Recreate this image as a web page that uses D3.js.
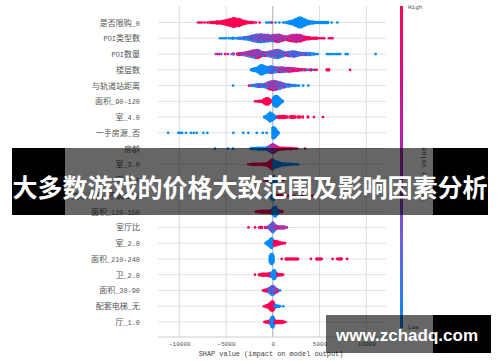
<!DOCTYPE html>
<html>
<head>
<meta charset="utf-8">
<script src="https://cdn.jsdelivr.net/npm/d3@7"></script>
<style>
html, body { margin: 0; padding: 0; background: #fff; }
svg { display: block; }
</style>
</head>
<body>
<div id="chart"></div>
<script>
// feature names, top to bottom
const categories = ["是否限购_0", "POI类型数", "POI数量", "楼层数", "与轨道站距离", "面积_90-120", "室_4.0", "一手房源_否", "房龄", "室_3.0", "室_1.0", "房本年限_不满二年", "面积_120-150", "室厅比", "室_2.0", "面积_210-240", "卫_2.0", "面积_30-90", "配套电梯_无", "厅_1.0"];
const xTicks = [-10000, -5000, 0, 5000, 10000];
const titleText = "大多数游戏的价格大致范围及影响因素分析";
const watermarkText = "www.zchadq.com";

// each entry: [shap value, dots stacked at that value, feature value 0..1]
const xiangou = [[-8000,1,1],[-7800,1,1],[-7600,1,1],[-7300,1,1],[-7000,1,1],[-6800,1,1],[-6600,2,1],[-6400,2,1],[-6200,2,1],[-6000,3,1],[-5800,3,1],[-5600,3,1],[-5400,4,1],[-5200,5,1],[-5000,6,1],[-4800,7,1],[-4600,8,1],[-4400,9,1],[-4200,11,1],[-4000,10,1],[-3800,8,1],[-3600,9,1],[-3400,7,1],[-3200,5,1],[-3000,4,1],[-2800,3,1],[-2600,2,1],[-2400,2,1],[-2200,2,1],[-2000,1,1],[-1800,1,1],[-1400,1,1],[-700,1,0],[-500,1,0],[-300,1,0],[-100,1,1],[300,1,0],[700,1,0],[1100,1,0],[1300,1,0],[1500,2,0],[1700,3,0],[1900,4,0],[2100,5,0],[2300,7,0],[2500,9,0],[2700,11,0],[2900,12,0],[3100,11,0],[3300,9,0],[3500,7,0],[3700,5,0],[3900,4,0],[4100,3,0],[4300,3,0],[4500,2,0],[4700,2,0],[4900,2,0],[5100,2,0],[5300,2,0],[5500,2,0],[5700,2,0],[5900,2,0],[6300,1,0],[6900,1,0]];
const poiType = [[-5650,1,0],[-5400,1,0],[-5200,1,0],[-5000,1,0],[-4700,1,0],[-4500,1,0],[-4300,2,0],[-4100,1,0],[-3900,1,0],[-3700,2,.1],[-3500,2,.1],[-3300,2,.1],[-3100,3,.1],[-2900,3,.2],[-2700,4,.2],[-2500,5,.2],[-2300,6,.3],[-2100,7,.3],[-1900,8,.4],[-1700,9,.4],[-1500,9,.4],[-1300,10,.45],[-1100,9,.45],[-900,9,.45],[-700,8,.5],[-500,8,.5],[-300,7,.5],[-100,7,.5],[100,8,.55],[300,8,.6],[500,9,.6],[700,9,.6],[900,7,.65],[1100,6,.7],[1300,5,.7],[1500,5,.7],[1700,6,.75],[1900,7,.75],[2100,8,.8],[2300,8,.8],[2500,9,.8],[2700,8,.8],[2900,8,.8],[3100,7,.85],[3300,5,.85],[3500,4,.9],[3700,3,.9],[3900,3,.9],[4100,2,1],[4300,2,1],[4500,2,1],[4700,2,1],[4900,1,1],[5100,1,1],[5300,1,1],[5500,1,1],[6000,1,1],[6200,1,1],[6400,1,1]];
const poiCount = [[-6100,1,.75],[-5900,1,.75],[-5700,1,.75],[-5500,1,.75],[-5100,1,.75],[-4800,1,.75],[-4400,1,.75],[-4200,2,.75],[-3800,2,.7],[-3600,3,.7],[-3400,3,.7],[-3200,3,.7],[-3000,4,.65],[-2800,5,.65],[-2600,6,.65],[-2400,7,.6],[-2200,8,.6],[-2000,9,.6],[-1800,10,.55],[-1600,10,.55],[-1400,8,.5],[-1200,6,.5],[-1000,5,.5],[-800,5,.45],[-600,5,.45],[-400,6,.4],[-200,7,.4],[0,8,.4],[200,9,.35],[400,10,.35],[600,10,.35],[800,8,.3],[1000,7,.3],[1200,5,.3],[1400,4,.3],[1600,5,.25],[1800,6,.25],[2000,6,.25],[2200,7,.25],[2400,6,.2],[2600,5,.2],[2800,4,.2],[3000,3,.2],[3200,3,.3],[3400,3,.3],[3600,3,.15],[3800,3,.1],[4000,3,.1],[4200,2,.1],[4400,2,0],[4600,1,0],[4800,1,0],[5800,1,0],[6000,1,0],[6200,1,0],[6400,1,0],[6600,1,0],[6800,1,0],[7000,1,0],[7200,1,0],[7800,1,0],[8000,1,0],[11000,1,0]];
const floors = [[-2300,2,0],[-2100,3,0],[-1900,4,0],[-1700,5,0],[-1500,8,0],[-1300,11,0],[-1100,11,0],[-900,9,0],[-700,7,.05],[-500,7,.05],[-300,8,.1],[-100,8,.15],[100,7,.2],[300,6,.3],[500,6,.4],[700,6,.5],[900,6,.55],[1100,6,.6],[1300,5,.65],[1500,5,.7],[1700,5,.75],[1900,5,.8],[2100,4,.8],[2300,4,.85],[2500,3,.85],[2700,3,.85],[2900,2,.9],[3100,2,.9],[3300,2,.7],[3500,2,.7],[3700,1,.5],[3900,1,.5],[4100,2,.5],[4300,1,.5],[4500,1,.5],[4700,1,1],[5800,2,1],[6000,2,1],[8260,1,1]];
const subway = [[-4250,1,0],[-2550,1,.8],[-2400,1,.8],[-2200,2,.15],[-2000,2,.15],[-1800,3,.15],[-1600,4,.15],[-1400,4,.15],[-1200,4,.2],[-1000,4,.2],[-800,5,.3],[-600,7,.4],[-400,9,.5],[-200,10,.55],[0,11,.55],[200,11,.55],[400,10,.5],[600,9,.45],[800,8,.4],[1000,6,.3],[1200,5,.3],[1400,4,.2],[1600,3,.2],[1800,3,.15],[2000,2,.1],[2200,2,.1],[2400,2,0],[2600,1,0],[2800,1,0],[3240,1,0],[3800,1,0]];
const area90 = [[-1900,1,1],[-1700,1,1],[-1500,2,1],[-1300,2,1],[-1100,3,1],[-900,6,1],[-700,8,1],[-500,8,1],[-300,5,1],[-100,2,1],[50,8,0],[150,11,0],[300,13,0],[450,13,0],[600,10,0],[750,7,0],[900,4,0],[1050,2,0]];
const room4 = [[-900,2,0],[-700,4,0],[-500,7,0],[-300,11,0],[-100,9,0],[100,6,0],[300,3,0],[500,2,1],[700,3,1],[900,3,1],[1100,3,1],[1300,3,1],[1500,2,1],[1800,2,1],[2000,3,1],[2200,3,1],[2400,2,1],[2700,2,1],[2900,2,1],[3200,2,1],[3760,2,1],[4400,1,1],[5370,1,1]];
const firstHand = [[-11200,1,0],[-10100,1,0],[-9900,1,0],[-9700,1,0],[-9280,1,0],[-8750,1,0],[-8450,1,0],[-8140,1,0],[-7430,1,0],[-7000,1,0],[-4220,1,0],[-3150,1,0],[-2620,1,0],[-1720,1,0],[-1080,1,0],[-650,1,0],[0,13,0],[150,13,0],[300,10,0],[450,6,0],[600,2,0]];
const age = [[-6180,1,0],[-4800,1,0],[-4250,1,0],[-2400,1,0],[-2200,2,0],[-2000,2,0],[-1800,2,0],[-1600,3,0],[-1400,3,0],[-1200,3,0],[-1000,3,.1],[-800,3,.1],[-600,4,.2],[-400,6,.4],[-200,9,.6],[0,11,.65],[200,9,.75],[400,6,.8],[600,4,.9],[800,3,.9],[1000,3,1],[1200,3,1],[1400,2,1],[1600,2,1],[1800,2,1],[2000,2,1],[2200,1,1],[2400,1,1],[2600,1,1],[3450,1,1]];
const room3 = [[-2600,1,1],[-2400,1,1],[-2200,2,1],[-2000,2,1],[-1800,2,1],[-1600,2,1],[-1400,2,1],[-1200,2,1],[-1000,3,1],[-800,3,1],[-600,4,1],[-400,7,1],[-200,10,1],[-50,12,1],[100,10,0],[300,8,0],[500,7,0],[700,5,0],[900,4,0],[1100,3,0],[1300,3,0],[1500,2,0],[1700,2,0],[1900,2,0],[2100,1,0],[2300,1,0],[2500,1,0],[2700,1,0]];
const room1 = [[-900,1,1],[-700,2,1],[-500,2,1],[-300,4,0],[-100,9,0],[100,10,0],[300,5,0],[500,2,0],[800,1,1],[1100,1,1]];
const deedYears = [[-700,1,0],[-500,2,0],[-300,4,0],[-100,9,0],[100,10,0],[300,4,1],[500,3,1],[700,2,1],[900,2,1],[1100,2,1],[1300,2,1],[1500,2,1],[1700,1,1],[2000,2,1],[2300,1,1],[3100,2,1],[3300,1,1],[3900,1,1],[4200,1,1]];
const area120 = [[-1800,1,1],[-1600,2,1],[-1400,2,1],[-1200,3,1],[-1000,3,1],[-800,3,1],[-600,3,1],[-400,3,1],[-200,4,1],[0,8,0],[150,11,0],[300,12,0],[450,8,0],[600,4,0],[800,2,1],[1000,2,1]];
const roomRatio = [[-2600,1,1],[-1900,1,1],[-1450,1,.9],[-1300,2,.9],[-1150,2,.9],[-800,2,.8],[-600,2,.8],[-450,3,.6],[-300,6,.3],[-150,9,.2],[0,12,.3],[150,9,.4],[300,5,.55],[450,4,.65],[600,3,.7],[750,3,.7],[900,3,.7],[1050,3,.7],[1200,3,.7],[1350,2,.7],[1500,1,.7]];
const room2 = [[-750,2,0],[-600,4,0],[-450,6,0],[-300,9,0],[-150,12,0],[0,9,0],[150,6,1],[300,6,1],[450,5,1],[600,4,1],[750,3,1],[900,2,1],[1050,2,1],[1200,1,1],[1300,1,1]];
const area210 = [[-300,8,0],[-180,12,0],[-60,12,0],[50,8,0],[950,1,1],[1400,2,1],[1600,2,1],[1800,2,1],[2000,2,1],[2200,2,1],[2400,2,1],[2600,2,1],[2700,1,1],[4080,1,1],[4700,2,1],[4900,2,1],[5100,2,1],[5230,1,1],[6400,1,1],[6870,1,1],[7050,2,1],[7250,2,1],[7370,1,1],[7950,1,1]];
const bath2 = [[-1900,1,1],[-1450,2,1],[-1300,2,1],[-1150,3,1],[-1000,3,1],[-850,3,1],[-700,3,1],[-550,3,1],[-400,4,1],[-250,5,.8],[-100,6,0],[50,10,0],[200,11,0],[350,6,0],[500,3,1],[650,2,1],[800,2,1],[950,2,1],[1100,1,1]];
const area30 = [[-1050,1,1],[-900,2,1],[-750,3,.9],[-600,3,.9],[-450,5,.5],[-300,7,.2],[-150,10,.2],[0,11,.25],[150,9,.3],[300,6,.4],[450,4,.5],[600,2,.3],[770,1,.2]];
const elevator = [[-950,1,1],[-800,2,1],[-650,3,1],[-500,4,1],[-350,7,1],[-200,10,1],[-50,12,1],[100,9,1],[200,5,.3],[350,3,0],[500,2,0],[650,2,0],[770,1,0],[1120,1,0]];
const hall1 = [[-900,1,1],[-750,2,1],[-600,2,1],[-450,3,1],[-300,5,.7],[-150,11,0],[0,13,0],[100,10,0],[250,4,1],[400,3,1],[550,3,1],[700,3,1],[850,3,1],[1000,3,1],[1150,2,1],[1350,1,1]];

const series = [xiangou, poiType, poiCount, floors, subway, area90, room4, firstHand, age, room3, room1, deedYears, area120, roomRatio, room2, area210, bath2, area30, elevator, hall1];

const width = 500, height = 362;
const cjk = "'Noto Sans CJK SC'";
const mono = "'Liberation Mono'";

const x = d3.scaleLinear().domain([-10000, 10000]).range([179.3, 366.3]);
const y = d3.scalePoint().domain(categories).range([22.5, 322]);
const color = d3.scaleLinear()
    .domain([0, .25, .5, .75, 1])
    .range(["#008bfb", "#6b63e0", "#a52ebd", "#d90c8c", "#ff0051"]);

const svg = d3.select("#chart").append("svg")
    .attr("width", width)
    .attr("height", height);

// grid
svg.append("g").selectAll("line")
    .data(xTicks)
    .join("line")
    .attr("x1", d => x(d)).attr("x2", d => x(d))
    .attr("y1", 6).attr("y2", 337)
    .attr("stroke", d => d === 0 ? "#aaa" : "#ddd")
    .attr("stroke-width", 1);

svg.append("g").selectAll("line")
    .data(categories)
    .join("line")
    .attr("x1", 158).attr("x2", 386)
    .attr("y1", d => y(d)).attr("y2", d => y(d))
    .attr("stroke", "#e2e2e2")
    .attr("stroke-width", 1);

// row labels, latin runs set apart from the chinese ones
const labels = svg.append("g").selectAll("text")
    .data(categories)
    .join("text")
    .attr("x", 140)
    .attr("y", d => y(d) + 3)
    .attr("text-anchor", "end")
    .attr("fill", "#555");

labels.selectAll("tspan")
    .data(d => d.match(/[\x00-\x7f]+|[^\x00-\x7f]+/g))
    .join("tspan")
    .text(d => d)
    .attr("font-family", d => /[\x00-\x7f]/.test(d) ? mono : cjk)
    .attr("font-size", d => /[\x00-\x7f]/.test(d) ? 6.9 : 8);

// beeswarm dots
categories.forEach((name, r) => {
    const dots = [];
    series[r].forEach(([v, n, t], c) => {
        d3.range(n).forEach(i => {
            // mixed bins get a mottled look
            let k = t;
            if (t > .1 && t < .9) k = t + [-.45, .45, -.15][(i * 2 + c) % 3];
            dots.push({ v, off: (i - (n - 1) / 2) * .88, k: Math.max(0, Math.min(1, k)) });
        });
    });
    svg.append("g").selectAll("circle")
        .data(dots)
        .join("circle")
        .attr("cx", d => x(d.v))
        .attr("cy", d => y(name) + d.off)
        .attr("r", 1.35)
        .attr("fill", d => color(d.k));
});

// x axis
const axis = svg.append("g")
    .attr("transform", "translate(0,337)")
    .call(d3.axisBottom(x).tickValues(xTicks).tickSize(0).tickPadding(5).tickFormat(d3.format("d")));
axis.select(".domain").remove();
axis.selectAll("text")
    .attr("font-family", mono)
    .attr("font-size", 6)
    .attr("fill", "#555");
svg.append("line")
    .attr("x1", 158).attr("x2", 386)
    .attr("y1", 337).attr("y2", 337)
    .attr("stroke", "#ccc");

svg.append("text")
    .attr("x", 271).attr("y", 356)
    .attr("text-anchor", "middle")
    .attr("font-family", mono)
    .attr("font-size", 6.9)
    .attr("fill", "#444")
    .text("SHAP value (impact on model output)");

// colour bar
const grad = svg.append("defs").append("linearGradient")
    .attr("id", "bar")
    .attr("x1", 0).attr("x2", 0).attr("y1", 1).attr("y2", 0);
grad.selectAll("stop")
    .data(color.domain())
    .join("stop")
    .attr("offset", d => d)
    .attr("stop-color", d => color(d));
svg.append("rect")
    .attr("x", 400).attr("y", 6)
    .attr("width", 3).attr("height", 322)
    .attr("fill", "url(#bar)");
svg.append("text")
    .attr("x", 408).attr("y", 9)
    .attr("font-family", mono).attr("font-size", 6)
    .attr("fill", "#555")
    .text("High");
svg.append("text")
    .attr("x", 408).attr("y", 329)
    .attr("font-family", mono).attr("font-size", 6)
    .attr("fill", "#555")
    .text("Low");
svg.append("text")
    .attr("transform", "translate(426,174) rotate(-90)")
    .attr("text-anchor", "middle")
    .attr("font-family", mono).attr("font-size", 6.9)
    .attr("fill", "#555")
    .text("Feature value");

// title band over the chart
svg.append("rect").attr("x", 65).attr("y", 148).attr("width", 368).attr("height", 67).attr("fill", "#000").attr("fill-opacity", .6);
svg.append("rect").attr("x", 12).attr("y", 148).attr("width", 53).attr("height", 67).attr("fill", "#000");
svg.append("rect").attr("x", 433).attr("y", 148).attr("width", 55).attr("height", 67).attr("fill", "#000");
svg.append("text")
    .attr("x", 250).attr("y", 197)
    .attr("text-anchor", "middle")
    .attr("font-family", cjk)
    .attr("font-weight", 700)
    .attr("font-size", 25)
    .attr("fill", "#fff")
    .text(titleText);

// watermark
svg.append("rect").attr("x", 326).attr("y", 315).attr("width", 107).attr("height", 38).attr("fill", "#000").attr("fill-opacity", .6);
svg.append("rect").attr("x", 433).attr("y", 315).attr("width", 58).attr("height", 38).attr("fill", "#000");
svg.append("text")
    .attr("x", 336).attr("y", 341)
    .attr("font-family", "'Liberation Sans'")
    .attr("font-weight", 700)
    .attr("font-size", 17)
    .attr("fill", "#fff")
    .text(watermarkText);
</script>
</body>
</html>
